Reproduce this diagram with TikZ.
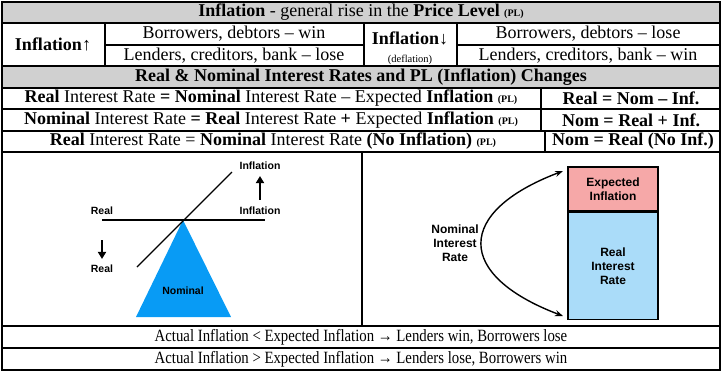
\documentclass[tikz,border=0pt]{standalone}
\usepackage{fontspec}
\setmainfont{Liberation Serif}
\newfontfamily\panelfont{Liberation Sans}
\usetikzlibrary{arrows.meta, positioning, calc}
\definecolor{headgray}{RGB}{208,208,208}
\definecolor{nomblue}{RGB}{8,155,245}
\definecolor{exppink}{RGB}{246,168,168}
\definecolor{realblue}{RGB}{170,220,249}
\newcommand{\plsmall}{{\fontsize{10}{11}\selectfont\textbf{(PL)}}}
\newcommand{\narrowrow}[1]{\scalebox{0.86}[1]{#1}}
\tikzstyle{celltext} = [inner sep=0pt, font=\fontsize{18}{20}\selectfont, anchor=center]
\tikzstyle{lowtext} = [inner sep=0pt, font=\fontsize{17.2}{19}\selectfont, anchor=center]
\tikzstyle{smalltext} = [inner sep=0pt, font=\fontsize{10.5}{12}\selectfont, anchor=center]
\tikzstyle{gridline} = [line width=1.2pt, black]
\tikzstyle{panellabel} = [inner sep=1pt, font=\panelfont\bfseries\fontsize{10.5}{12}\selectfont, align=center]
\tikzstyle{boxlabel} = [font=\panelfont\bfseries\fontsize{12}{14}\selectfont, align=center]
\tikzstyle{ratebox} = [rectangle, draw=black, line width=1.3pt, minimum width=90pt, inner sep=0pt]
\tikzstyle{fatarrow} = [line width=2pt, -{Triangle[width=8pt,length=7pt]}]
\tikzstyle{curvearrow} = [line width=1.4pt, {Stealth[length=8pt,width=6pt]}-{Stealth[length=8pt,width=6pt]}]

\begin{document}
\begin{tikzpicture}[x=1pt, y=-1pt]
    \useasboundingbox (0,0) rectangle (725,373);
    % Grey header rows
    \fill[headgray] (2,2) rectangle (720,23);
    \fill[headgray] (2,66) rectangle (720,88);

    % Grid
    \foreach \y in {23,66,88,109,131,152,326,348}
        \draw[gridline] (2,\y) -- (720,\y);
    \draw[gridline] (105,45) -- (364,45);
    \draw[gridline] (457,45) -- (720,45);
    \foreach \x in {105,364,457}
        \draw[gridline] (\x,23) -- (\x,66);
    \draw[gridline] (541,88) -- (541,131);
    \draw[gridline] (545,131) -- (545,152);
    \draw[gridline] (362,152) -- (362,326);
    \draw[line width=1.8pt] (2,2) rectangle (720,370);

    % Row 1: Inflation and winners / losers
    \node[celltext] (title) at (361,12.5) {\textbf{Inflation} - general rise in the \textbf{Price Level} \plsmall};
    \node[celltext] (infup) at (53,44.5) {\textbf{Inflation↑}};
    \node[celltext] (borrowwin) at (234,34) {Borrowers, debtors – win};
    \node[celltext] (lendlose) at (234,55.5) {Lenders, creditors, bank – lose};
    \node[celltext] (infdown) at (410,38) {\textbf{Inflation↓}};
    \node[smalltext] (deflation) at (410,60) {(deflation)};
    \node[celltext] (borrowlose) at (588,34) {Borrowers, debtors – lose};
    \node[celltext] (lendwin) at (588,55.5) {Lenders, creditors, bank – win};

    % Row 2: Real and nominal rates
    \node[celltext] (ratehead) at (361,77) {\textbf{Real \& Nominal Interest Rates and PL (Inflation) Changes}};
    \node[celltext] (eqone) at (271,98.5) {\textbf{Real} Interest Rate \textbf{=} \textbf{Nominal} Interest Rate – Expected \textbf{Inflation} \plsmall};
    \node[celltext] (shortone) at (631,98.5) {\textbf{Real = Nom – Inf.}};
    \node[celltext] (eqtwo) at (271,120) {\textbf{Nominal} Interest Rate \textbf{= Real} Interest Rate \textbf{+} Expected \textbf{Inflation} \plsmall};
    \node[celltext] (shorttwo) at (631,120) {\textbf{Nom = Real + Inf.}};
    \node[celltext] (eqthree) at (273,141.5) {\textbf{Real} Interest Rate = \textbf{Nominal} Interest Rate \textbf{(No Inflation)} \plsmall};
    \node[celltext] (shortthree) at (633,141.5) {\textbf{Nom = Real (No Inf.)}};

    % Left panel: seesaw
    \fill[nomblue] (183,220) -- (231,317) -- (136,317) -- cycle;
    \coordinate (pivot) at (183,220);
    \node[panellabel] (nominal) at (183,291) {Nominal};
    \node[panellabel] (realtop) at (102,211) {Real};
    \node[panellabel] (realbot) at (102,269) {Real};
    \node[panellabel] (inflow) at (260,211) {Inflation};
    \node[panellabel] (infhigh) at (260,166) {Inflation};
    \coordinate (beamL) at (102,220);
    \coordinate (beamR) at (265,220);
    \coordinate (tiltL) at (137,267);
    \coordinate (tiltR) at (232,172);
    \draw[line width=1.5pt] (beamL) -- (beamR);
    \draw[line width=1.3pt] (tiltL) -- (tiltR);
    \draw[fatarrow, shorten <=6pt, shorten >=5pt] (inflow) -- (infhigh);
    \draw[fatarrow, shorten <=24pt, shorten >=5pt] (realtop) -- (realbot);

    % Right panel: rate split
    \node[ratebox, fill=exppink, minimum height=44pt, boxlabel] (expbox) at (613,189) {Expected\\Inflation};
    \node[ratebox, fill=realblue, minimum height=107pt, boxlabel, below=0pt of expbox] (realbox) {Real\\Interest\\Rate};
    \node[boxlabel] (nomrate) at (455,243) {Nominal\\Interest\\Rate};
    \coordinate (arrtop) at (563,171);
    \coordinate (arrbot) at (563,316);
    \draw[curvearrow] (arrtop) .. controls (455,212) and (455,275) .. (arrbot);

    % Bottom rows
    \node[lowtext] (lendwins) at (361,337) {\narrowrow{Actual Inflation < Expected Inflation → Lenders win, Borrowers lose}};
    \node[lowtext] (lendloses) at (361,359) {\narrowrow{Actual Inflation > Expected Inflation → Lenders lose, Borrowers win}};
\end{tikzpicture}
\end{document}
